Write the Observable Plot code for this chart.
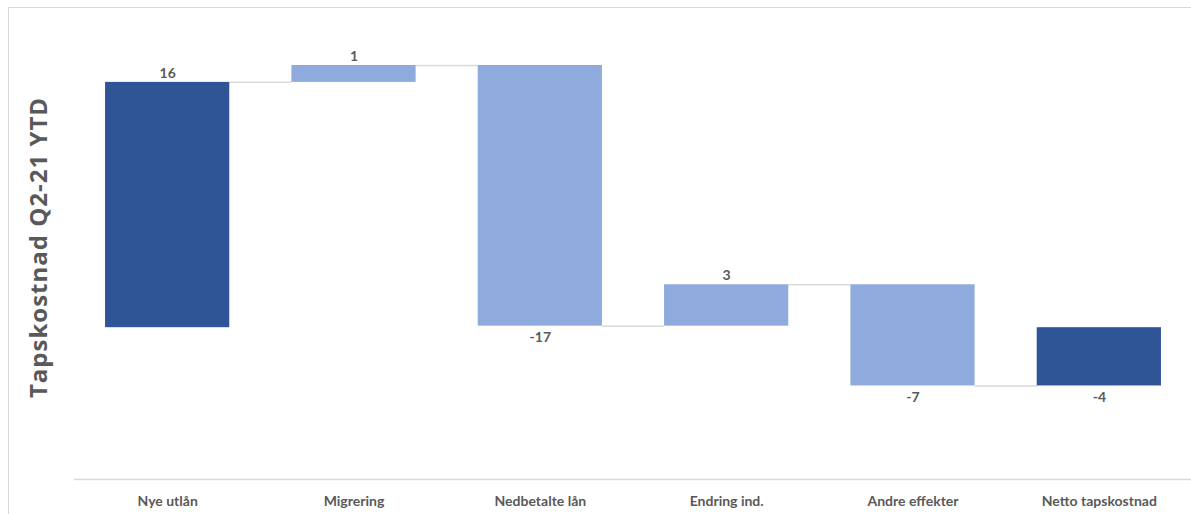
<!DOCTYPE html>
<html>
<head>
<meta charset="utf-8">
<script src="https://cdn.jsdelivr.net/npm/d3@7"></script>
<script src="https://cdn.jsdelivr.net/npm/@observablehq/plot@0.6"></script>
<style>
  html, body { margin: 0; padding: 0; background: #fff; overflow: hidden; }
  #wrap { position: relative; width: 1191px; height: 514px; overflow: hidden; }
  #frame { position: absolute; left: 8px; top: 7px; width: 1300px; height: 600px; border: 1px solid #d9d9d9; box-sizing: border-box; }
  #chart { position: absolute; left: 0; top: 0; }
  .ytitle text { letter-spacing: 1px; }
</style>
</head>
<body>
<div id="wrap"><div id="frame"></div><div id="chart"></div></div>
<script>
const categories = ["Nye utlån", "Migrering", "Nedbetalte lån", "Endring ind.", "Andre effekter", "Netto tapskostnad"];
const values = [16.0, 1.1, -17.0, 2.7, -6.6, -3.8];
const labels = ["16", "1", "-17", "3", "-7", "-4"];
const isTotal = [true, false, false, false, false, true];
const yTitle = "Tapskostnad Q2-21 YTD";

const dark = "#2F5597", light = "#8FAADC", grey = "#595959";

// build waterfall rows
let cum = 0;
const rows = categories.map((c, i) => {
  let start, end;
  if (isTotal[i]) { start = 0; end = values[i]; }
  else { start = cum; end = cum + values[i]; }
  cum = end;
  return {i, cat: c, start, end, value: values[i], label: labels[i], total: isTotal[i]};
});
const half = 1 / 3;
const connectors = rows.slice(0, -1).map(r => ({x1: r.i + half, x2: r.i + 1 - half, y: r.end}));
const pos = rows.filter(r => r.value >= 0);
const neg = rows.filter(r => r.value < 0);

const plot = Plot.plot({
  width: 1191,
  height: 514,
  marginLeft: 74,
  marginRight: 0,
  marginTop: 19,
  marginBottom: 35,
  style: {fontFamily: "Lato, 'Liberation Sans', sans-serif", color: grey, background: "transparent"},
  x: {domain: [-0.5, 5.5], range: [74, 1192]},
  y: {domain: [-9.9, 20.1], axis: null},
  marks: [
    Plot.ruleY([-9.9], {stroke: "#d9d9d9", strokeWidth: 1.5}),
    Plot.ruleY(connectors, {x1: "x1", x2: "x2", y: "y", stroke: "#d9d9d9", strokeWidth: 1.5}),
    Plot.rectY(rows, {x1: d => d.i - half, x2: d => d.i + half, y1: "start", y2: "end", fill: d => d.total ? dark : light}),
    Plot.text(pos, {x: "i", y: d => Math.max(d.start, d.end), text: "label", dy: -9,
      fontSize: 14, fontWeight: "bold", fill: grey, lineAnchor: "middle"}),
    Plot.text(neg, {x: "i", y: d => Math.min(d.start, d.end), text: "label", dy: 11.5,
      fontSize: 14, fontWeight: "bold", fill: grey, lineAnchor: "middle"}),
    Plot.axisX({ticks: categories.map((c, i) => i), tickFormat: i => categories[i], tickSize: 0, tickPadding: 17,
      fontSize: 14, fontWeight: "bold", fill: grey}),
    Plot.text([yTitle], {frameAnchor: "left", textAnchor: "middle", dx: -35, dy: -2, rotate: -90,
      fontSize: 24, fontWeight: "bold", fill: grey, fontFamily: "'Open Sans', sans-serif", className: "ytitle"})
  ]
});
document.getElementById("chart").appendChild(plot);
</script>
</body>
</html>
